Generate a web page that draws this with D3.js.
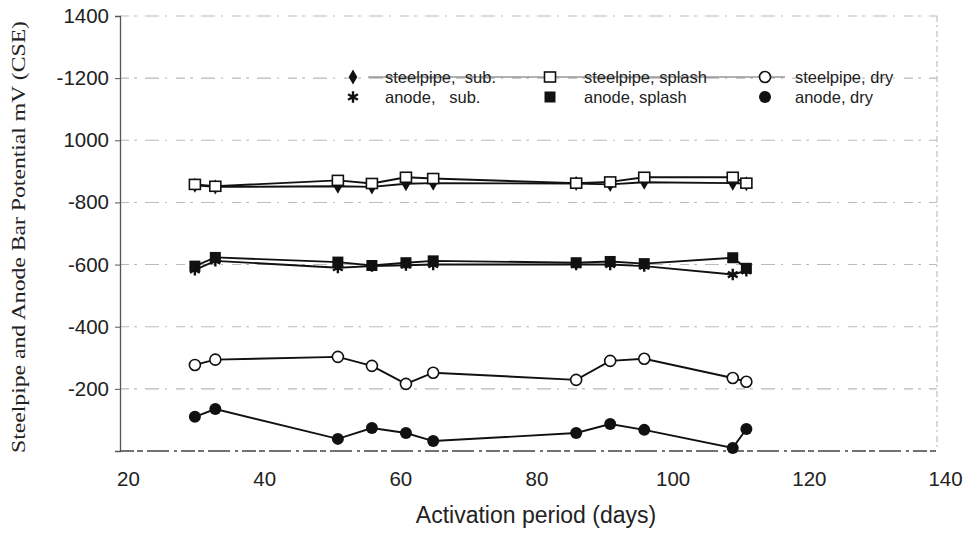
<!DOCTYPE html>
<html><head><meta charset="utf-8">
<script src="https://cdn.jsdelivr.net/npm/d3@7"></script>
<style>body{margin:0;background:#fff}svg{display:block}</style>
</head><body>
<svg id="c" width="970" height="533"></svg>
<script>
const days = [31, 34, 52, 57, 62, 66, 87, 92, 97, 110, 112];
const steelpipeSub    = [-855, -850, -852, -850, -860, -862, -861, -858, -865, -862, -860];
const steelpipeSplash = [-858, -852, -871, -861, -881, -877, -862, -866, -881, -881, -862];
const steelpipeDry    = [-277, -294, -303, -274, -216, -252, -229, -290, -297, -235, -223];
const anodeSub        = [-583, -612, -590, -595, -598, -600, -600, -600, -595, -568, -580];
const anodeSplash     = [-595, -623, -608, -597, -606, -612, -606, -610, -603, -622, -588];
const anodeDry        = [-110, -135, -39, -74, -58, -32, -58, -87, -68, -10, -71];
const xTicks = [20, 40, 60, 80, 100, 120, 140];
const yTicks = [-1400, -1200, -1000, -800, -600, -400, -200, 0];
const yTickLabels = ["1400", "-1200", "1000", "-800", "-600", "-400", "-200", ""];
const seriesNames = ["steelpipe,  sub.", "steelpipe, splash", "steelpipe, dry", "anode,   sub.", "anode, splash", "anode, dry"];

const series = [
  {name: seriesNames[0], vals: steelpipeSub, sym: "diamond"},
  {name: seriesNames[1], vals: steelpipeSplash, sym: "osquare"},
  {name: seriesNames[2], vals: steelpipeDry, sym: "ocircle"},
  {name: seriesNames[3], vals: anodeSub, sym: "star"},
  {name: seriesNames[4], vals: anodeSplash, sym: "square"},
  {name: seriesNames[5], vals: anodeDry, sym: "circle"}
];

const svg = d3.select("#c");
const L = 120, R = 937, T = 16, B = 451;
const x = d3.scaleLinear().domain([20, 140]).range([L, R]);
const y = d3.scaleLinear().domain([-1400, 0]).range([T, B]);

// grid lines
svg.append("g").selectAll("line").data(yTicks.slice(0, -1)).join("line")
  .attr("x1", L).attr("x2", R).attr("y1", d => y(d)).attr("y2", d => y(d))
  .attr("stroke", "#bbb").attr("stroke-width", 1.1)
  .attr("stroke-dasharray", "9,5,3,8,14,6,2,9");
// right border
svg.append("line").attr("x1", R).attr("x2", R).attr("y1", T).attr("y2", B)
  .attr("stroke", "#bbb").attr("stroke-width", 1.1).attr("stroke-dasharray", "6,3,2,4");
// bottom axis
svg.append("line").attr("x1", L).attr("x2", R).attr("y1", B).attr("y2", B)
  .attr("stroke", "#444").attr("stroke-width", 1.3).attr("stroke-dasharray", "14,3,6,4,22,5,3,4");

// y axis
const yAxis = d3.axisLeft(y).tickValues(yTicks).tickSize(5)
  .tickFormat((d, i) => yTickLabels[i]);
const gy = svg.append("g").attr("transform", `translate(${L},0)`).call(yAxis);
gy.select(".domain").attr("stroke", "#555").attr("stroke-width", 1.3);
gy.selectAll(".tick line").attr("stroke", "#555");
gy.selectAll("text").attr("font-family", "Liberation Sans, Arial, sans-serif")
  .attr("font-size", 20.5).attr("fill", "#222").attr("x", -11);

// x axis labels
const xAxis = d3.axisBottom(x).tickValues(xTicks).tickSize(0).tickFormat(d3.format("d"));
const gx = svg.append("g").attr("transform", `translate(0,${B})`).call(xAxis);
gx.select(".domain").remove();
gx.selectAll("text").attr("font-family", "Liberation Sans, Arial, sans-serif")
  .attr("font-size", 20.5).attr("fill", "#222").attr("y", 0).attr("dy", 35).attr("dx", 8);

// titles
svg.append("text").attr("x", 536).attr("y", 523).attr("text-anchor", "middle")
  .attr("font-family", "Liberation Sans, Arial, sans-serif").attr("font-size", 23).attr("fill", "#222")
  .text("Activation period (days)");
svg.append("text").attr("transform", "translate(25,237) rotate(-90)").attr("text-anchor", "middle")
  .attr("font-family", "Liberation Serif, Times New Roman, serif").attr("font-size", 19).attr("fill", "#222")
  .attr("textLength", 432).attr("lengthAdjust", "spacingAndGlyphs")
  .text("Steelpipe and Anode Bar Potential mV (CSE)");

function drawSym(g, sym, cx, cy) {
  if (sym === "diamond") {
    g.append("path").attr("d", d3.symbol(d3.symbolDiamond, 65)()).attr("transform", `translate(${cx},${cy})`).attr("fill", "#111");
  } else if (sym === "osquare") {
    g.append("rect").attr("x", cx - 5.5).attr("y", cy - 5).attr("width", 11).attr("height", 10)
      .attr("fill", "#fff").attr("stroke", "#111").attr("stroke-width", 1.6);
  } else if (sym === "ocircle") {
    g.append("circle").attr("cx", cx).attr("cy", cy).attr("r", 5.5).attr("fill", "#fff").attr("stroke", "#111").attr("stroke-width", 1.6);
  } else if (sym === "star") {
    g.append("path").attr("d", d3.symbol(d3.symbolAsterisk, 90)()).attr("transform", `translate(${cx},${cy})`)
      .attr("stroke", "#111").attr("stroke-width", 2.4).attr("fill", "none");
  } else if (sym === "square") {
    g.append("rect").attr("x", cx - 5.5).attr("y", cy - 5.5).attr("width", 11).attr("height", 11).attr("fill", "#111");
  } else {
    g.append("circle").attr("cx", cx).attr("cy", cy).attr("r", 6).attr("fill", "#111");
  }
}

const line = d3.line().x((d, i) => x(days[i])).y(d => y(d));
series.forEach(s => {
  svg.append("path").attr("d", line(s.vals)).attr("fill", "none").attr("stroke", "#111").attr("stroke-width", 1.9);
});
series.forEach(s => {
  const g = svg.append("g");
  s.vals.forEach((v, i) => drawSym(g, s.sym, x(days[i]), y(v)));
});

// legend
const lg = svg.append("g");
const colX = [353, 550, 765];
const txtX = [385, 584, 795];
const rowY = [77, 97];
lg.append("line").attr("x1", 368).attr("x2", 785).attr("y1", rowY[0]).attr("y2", rowY[0])
  .attr("stroke", "#666").attr("stroke-width", 1);
series.forEach((s, i) => {
  const c = i % 3, r = Math.floor(i / 3);
  drawSym(lg, s.sym, colX[c], rowY[r]);
  lg.append("text").attr("x", txtX[c]).attr("y", rowY[r] + 5.5)
    .attr("font-family", "Liberation Sans, Arial, sans-serif").attr("font-size", 16.5).attr("fill", "#222")
    .attr("xml:space", "preserve").style("white-space", "pre")
    .text(s.name);
});
</script>
</body></html>
